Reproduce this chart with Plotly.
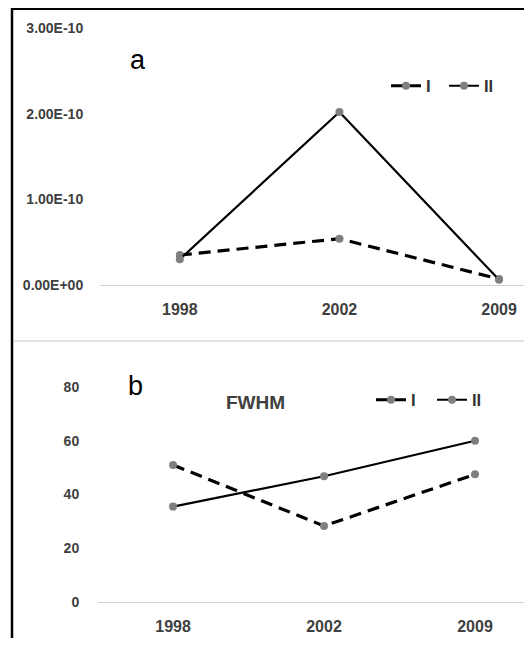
import plotly.graph_objects as go

# ---- data ----
years = ["1998", "2002", "2009"]

a_series_I = [3.5e-11, 5.4e-11, 0.7e-11]
a_series_II = [3.0e-11, 2.02e-10, 0.6e-11]

b_series_I = [51.0, 28.3, 47.5]
b_series_II = [35.5, 46.8, 60.0]

a_tickvals = [0, 1e-10, 2e-10, 3e-10]
a_ticktext = ["0.00E+00", "1.00E-10", "2.00E-10", "3.00E-10"]
b_tickvals = [0, 20, 40, 60, 80]
b_ticktext = ["0", "20", "40", "60", "80"]

series_names = ["I", "II"]

# page has an 8px default body margin; the figure fills the rest
OFF = 8
W, H = 532 - 2 * OFF, 646 - 2 * OFF
FONT = "Liberation Sans, Arial, sans-serif"
TXT = "#404040"
MARK = "#7f7f7f"


def px(x):
    return (x - OFF) / W


def py(y):
    return 1 - (y - OFF) / H


fig = go.Figure()

dash_I = "12px,7px"

# panel a
fig.add_trace(go.Scatter(x=years, y=a_series_I, name=series_names[0], mode="lines+markers",
                         line=dict(color="black", width=3.2, dash=dash_I),
                         marker=dict(color=MARK, size=8), xaxis="x", yaxis="y", legend="legend"))
fig.add_trace(go.Scatter(x=years, y=a_series_II, name=series_names[1], mode="lines+markers",
                         line=dict(color="black", width=2.2),
                         marker=dict(color=MARK, size=8), xaxis="x", yaxis="y", legend="legend"))
# panel b
fig.add_trace(go.Scatter(x=years, y=b_series_I, name=series_names[0], mode="lines+markers",
                         line=dict(color="black", width=3.2, dash=dash_I),
                         marker=dict(color=MARK, size=8), xaxis="x2", yaxis="y2", legend="legend2"))
fig.add_trace(go.Scatter(x=years, y=b_series_II, name=series_names[1], mode="lines+markers",
                         line=dict(color="black", width=2.2),
                         marker=dict(color=MARK, size=8), xaxis="x2", yaxis="y2", legend="legend2"))

tickfont_x = dict(family=FONT, size=16, color=TXT, weight="bold")
tickfont_y = dict(family=FONT, size=14, color=TXT, weight="bold")
legfont = dict(family=FONT, size=16.5, color="#333333", weight="bold")

XR = 532 - OFF  # right edge of the figure in page pixels

fig.update_layout(
    template=None,
    width=W, height=H, autosize=False,
    margin=dict(l=0, r=0, t=0, b=0, pad=0),
    paper_bgcolor="white", plot_bgcolor="rgba(0,0,0,0)",
    xaxis=dict(type="category", domain=[px(100), 1], range=[-0.5, (XR - 179) / 160], anchor="y",
               automargin=False,
               showgrid=False, zeroline=False, showline=True, linecolor="#d0d0d0", linewidth=1,
               ticks="outside", ticklen=10, tickcolor="rgba(0,0,0,0)", tickfont=tickfont_x),
    yaxis=dict(domain=[py(285), py(28)], range=[0, 3e-10], anchor="x", automargin=False,
               showgrid=False, zeroline=False, showline=False,
               tickvals=a_tickvals, ticktext=a_ticktext,
               ticks="outside", ticklen=13, tickcolor="rgba(0,0,0,0)", tickfont=tickfont_y),
    xaxis2=dict(type="category", domain=[px(98), 1], range=[-0.497, (XR - 173) / 151], anchor="y2",
                automargin=False,
                showgrid=False, zeroline=False, showline=True, linecolor="#d0d0d0", linewidth=1,
                ticks="outside", ticklen=10, tickcolor="rgba(0,0,0,0)", tickfont=tickfont_x),
    yaxis2=dict(domain=[py(602), py(387)], range=[0, 80], anchor="x2", automargin=False,
                showgrid=False, zeroline=False, showline=False,
                tickvals=b_tickvals, ticktext=b_ticktext,
                ticks="outside", ticklen=15, tickcolor="rgba(0,0,0,0)", tickfont=tickfont_y),
    legend=dict(orientation="h", x=px(386), y=py(86), xanchor="left", yanchor="middle",
                bgcolor="rgba(0,0,0,0)", borderwidth=0, entrywidth=13, entrywidthmode="pixels",
                font=legfont, itemclick=False, itemdoubleclick=False),
    legend2=dict(orientation="h", x=px(371), y=py(400), xanchor="left", yanchor="middle",
                 bgcolor="rgba(0,0,0,0)", borderwidth=0, entrywidth=16, entrywidthmode="pixels",
                 font=legfont, itemclick=False, itemdoubleclick=False),
    showlegend=True,
)

fig.add_annotation(text="a", x=px(138), y=py(60), xref="paper", yref="paper", showarrow=False,
                   xanchor="center", yanchor="middle",
                   font=dict(family=FONT, size=27, color="black"))
fig.add_annotation(text="b", x=px(135), y=py(386), xref="paper", yref="paper", showarrow=False,
                   xanchor="center", yanchor="middle",
                   font=dict(family=FONT, size=27, color="black"))
fig.add_annotation(text="FWHM", x=px(255), y=py(402), xref="paper", yref="paper", showarrow=False,
                   xanchor="center", yanchor="middle",
                   font=dict(family=FONT, size=19, color=TXT, weight="bold"))

# frame and divider
fig.add_shape(type="line", xref="paper", yref="paper", x0=px(12), x1=px(12), y0=0, y1=1,
              line=dict(color="black", width=2.5))
fig.add_shape(type="line", xref="paper", yref="paper", x0=px(11), x1=1, y0=py(9), y1=py(9),
              line=dict(color="black", width=2))
fig.add_shape(type="line", xref="paper", yref="paper", x0=px(13), x1=1, y0=py(341), y1=py(341),
              line=dict(color="#c8c8c8", width=1.2))

fig.write_html("out.html", config={"displayModeBar": False})
